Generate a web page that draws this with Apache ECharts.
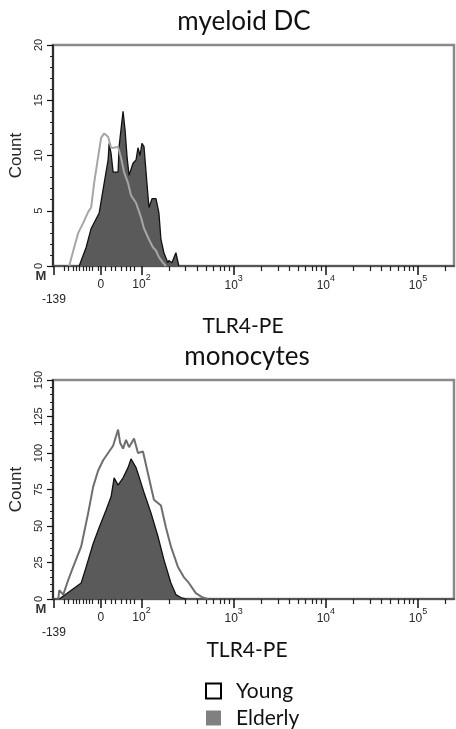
<!DOCTYPE html>
<html>
<head>
<meta charset="utf-8">
<script src="https://cdn.jsdelivr.net/npm/echarts@6/dist/echarts.min.js"></script>
<style>
html,body{margin:0;padding:0;background:#fff;}
#chart{width:456px;height:729px;}
</style>
</head>
<body>
<div id="chart"></div>
<script>
// ---- DATA (x in display units: decades on the biexponential axis, 10^k -> k) ----
const tickValues = [1.05, 1.56, 2, 3, 4, 5];
const tickLabels = ['-139', '0', '10^2', '10^3', '10^4', '10^5'];
const minorTickValues = [1.16, 1.21, 1.26, 1.29, 1.32, 1.37, 1.40, 1.43, 1.47, 1.53, 1.61, 1.67, 1.72, 1.78, 1.83, 1.88, 1.92,
  2.30, 2.48, 2.60, 2.70, 2.78, 2.85, 2.90, 2.95,
  3.30, 3.48, 3.60, 3.70, 3.78, 3.85, 3.90, 3.95,
  4.30, 4.48, 4.60, 4.70, 4.78, 4.85, 4.90, 4.95, 5.30];

// myeloid DC
const mdcElderlyX = [1.324, 1.400, 1.454, 1.541, 1.595, 1.638, 1.649, 1.670, 1.692, 1.746, 1.757, 1.789, 1.800, 1.822, 1.843, 1.865, 1.908, 1.941, 1.962, 1.984, 2.005, 2.027, 2.059, 2.081, 2.114, 2.157, 2.189, 2.211, 2.243, 2.286, 2.297, 2.330, 2.373, 2.405];
const mdcElderlyY = [0, 1.7, 3.4, 4.8, 7.5, 9.6, 11.1, 10.2, 8.5, 8.5, 10.8, 13.2, 14.0, 12.3, 9.9, 8.2, 9.3, 9.6, 10.7, 10.0, 11.1, 10.8, 7.5, 5.3, 6.1, 6.1, 4.8, 2.4, 1.2, 0.3, 0.5, 0.3, 1.2, 0];
const mdcYoungX = [1.216, 1.270, 1.314, 1.368, 1.422, 1.454, 1.486, 1.530, 1.562, 1.595, 1.638, 1.670, 1.703, 1.746, 1.778, 1.811, 1.854, 1.886, 1.941, 1.995, 2.027, 2.081, 2.124, 2.157, 2.189, 2.232, 2.265];
const mdcYoungY = [0, 1.7, 3.0, 3.9, 4.9, 5.3, 7.5, 9.9, 11.6, 12.0, 11.7, 10.7, 10.7, 10.8, 9.8, 8.5, 7.5, 6.4, 5.7, 4.4, 3.4, 2.4, 1.7, 1.4, 0.8, 0.3, 0];

// monocytes
const monoElderlyX = [1.108, 1.130, 1.238, 1.346, 1.400, 1.476, 1.541, 1.616, 1.670, 1.703, 1.746, 1.800, 1.854, 1.886, 1.941, 1.962, 2.027, 2.103, 2.178, 2.243, 2.319, 2.373, 2.427, 2.481];
const monoElderlyY = [0, 1, 6, 11, 22, 38, 49, 61, 70, 83, 78, 83, 90, 96, 90, 86, 73, 59, 43, 27, 11, 3, 1, 0];
const monoYoungX = [1.097, 1.108, 1.151, 1.205, 1.259, 1.346, 1.422, 1.476, 1.530, 1.584, 1.638, 1.692, 1.746, 1.768, 1.800, 1.832, 1.865, 1.919, 1.962, 2.016, 2.070, 2.135, 2.211, 2.265, 2.319, 2.395, 2.459, 2.514, 2.589, 2.665, 2.719];
const monoYoungY = [0, 6, 3, 13, 22, 36, 59, 77, 88, 95, 100, 105, 116, 107, 103, 109, 104, 110, 100, 101, 86, 68, 64, 49, 36, 22, 15, 11, 4, 1, 0];

const panels = [
  {title: 'myeloid DC', yMax: 20, yStep: 5, elderlyX: mdcElderlyX, elderlyY: mdcElderlyY, youngX: mdcYoungX, youngY: mdcYoungY},
  {title: 'monocytes', yMax: 150, yStep: 25, elderlyX: monoElderlyX, elderlyY: monoElderlyY, youngX: monoYoungX, youngY: monoYoungY}
];
const xTitle = 'TLR4-PE';
const yTitle = 'Count';
const seriesNames = ['Young', 'Elderly'];

// ---- CHART ----
const zip = (xs, ys) => xs.map((x, i) => [x, ys[i]]);
const labelFont = 'Liberation Sans, Arial, sans-serif';
const textFont = 'Lato, Open Sans, sans-serif';
const XMIN = 1.04, XMAX = 5.39;

function fmt(v) {
  const i = tickValues.findIndex(t => Math.abs(t - v) < 1e-6);
  if (i < 0) return '';
  const s = tickLabels[i];
  if (s.indexOf('^') >= 0) {
    const p = s.split('^');
    return '{b|' + p[0] + '}{s|' + p[1] + '}';
  }
  return '{b|' + s + '}';
}
const rich = {
  b: {fontSize: 12, fontFamily: labelFont, color: '#262626', lineHeight: 18, verticalAlign: 'bottom'},
  s: {fontSize: 9, fontFamily: labelFont, color: '#262626', lineHeight: 9, verticalAlign: 'top'}
};

const grids = [
  {left: 52, top: 45, width: 402, height: 221},
  {left: 52, top: 380, width: 402, height: 219}
];

const xAxes = [], yAxes = [], series = [];
grids.forEach((g, gi) => {
  g.show = true; g.borderColor = '#8a8a8a'; g.borderWidth = 2.5; g.backgroundColor = '#fff';
  const base = {gridIndex: gi, type: 'value', min: XMIN, max: XMAX, position: 'bottom', splitLine: {show: false}};
  xAxes.push(Object.assign({}, base, {
    axisLine: {show: true, onZero: false, lineStyle: {color: '#555', width: 2}},
    axisTick: {show: true, customValues: tickValues, length: 9, lineStyle: {color: '#111', width: 1.5}},
    axisLabel: {show: true, customValues: [1.56, 2], formatter: fmt, rich: rich, margin: 7}
  }));
  xAxes.push(Object.assign({}, base, {
    axisLine: {show: false},
    axisTick: {show: true, customValues: minorTickValues, length: 5, lineStyle: {color: '#222', width: 1.2}},
    axisLabel: {show: false}
  }));
  xAxes.push(Object.assign({}, base, {
    axisLine: {show: false}, axisTick: {show: false},
    axisLabel: {show: true, customValues: [3, 4, 5], formatter: fmt, rich: rich, margin: 8}
  }));
  xAxes.push(Object.assign({}, base, {
    axisLine: {show: false}, axisTick: {show: false},
    axisLabel: {show: true, customValues: [1.05], formatter: fmt, rich: rich, margin: 22}
  }));
  const p = panels[gi];
  yAxes.push({
    gridIndex: gi, type: 'value', min: 0, max: p.yMax, interval: p.yStep,
    axisLine: {show: true, lineStyle: {color: '#111', width: 1.5}},
    axisTick: {show: true, length: 6, lineStyle: {color: '#111', width: 1.2}},
    minorTick: {show: true, splitNumber: 5, length: 3, lineStyle: {color: '#222'}},
    axisLabel: {rotate: 90, fontSize: 11, fontFamily: labelFont, color: '#262626', margin: 9},
    splitLine: {show: false},
    name: yTitle, nameLocation: 'middle', nameGap: 28, nameRotate: 90,
    nameTextStyle: {fontSize: 17, fontFamily: labelFont, color: '#262626'}
  });
  series.push({
    name: seriesNames[1], type: 'line', xAxisIndex: gi * 4, yAxisIndex: gi,
    data: zip(p.elderlyX, p.elderlyY), showSymbol: false, z: 2,
    color: '#808080',
    lineStyle: {color: '#111', width: 1.3},
    areaStyle: {color: '#5a5a5a', opacity: 1}
  });
  series.push({
    name: seriesNames[0], type: 'line', xAxisIndex: gi * 4, yAxisIndex: gi,
    data: zip(p.youngX, p.youngY), showSymbol: false, z: 3,
    color: '#ffffff',
    lineStyle: {color: gi === 0 ? '#a6a6a6' : '#6e6e6e', width: 2}
  });
});

const chart = echarts.init(document.getElementById('chart'), null, {renderer: 'canvas'});
chart.setOption({
  animation: false,
  backgroundColor: '#fff',
  grid: grids,
  xAxis: xAxes,
  yAxis: yAxes,
  series: series,
  legend: {
    orient: 'vertical', left: 205, top: 680, height: 80, itemWidth: 15, itemHeight: 15, itemGap: 5, padding: 0,
    textStyle: {fontSize: 21, lineHeight: 22, fontFamily: textFont, color: '#111', padding: [0, 0, 0, 10]},
    data: [
      {name: seriesNames[0], icon: 'rect', itemStyle: {color: '#fff', borderColor: '#000', borderWidth: 2}},
      {name: seriesNames[1], icon: 'rect', itemStyle: {color: '#808080', borderWidth: 0}}
    ]
  },
  graphic: [
    {type: 'text', x: 244, y: 22, style: {text: panels[0].title, font: '26px ' + textFont, fill: '#111', textAlign: 'center', textVerticalAlign: 'middle'}},
    {type: 'text', x: 243, y: 326, style: {text: xTitle, font: '21px ' + textFont, fill: '#111', textAlign: 'center', textVerticalAlign: 'middle'}},
    {type: 'text', x: 247, y: 357, style: {text: panels[1].title, font: '26px ' + textFont, fill: '#111', textAlign: 'center', textVerticalAlign: 'middle'}},
    {type: 'text', x: 247, y: 650, style: {text: xTitle, font: '21px ' + textFont, fill: '#111', textAlign: 'center', textVerticalAlign: 'middle'}},
    {type: 'text', x: 41, y: 276, style: {text: 'M', font: 'bold 13px ' + labelFont, fill: '#333', textAlign: 'center', textVerticalAlign: 'middle'}},
    {type: 'text', x: 41, y: 609, style: {text: 'M', font: 'bold 13px ' + labelFont, fill: '#333', textAlign: 'center', textVerticalAlign: 'middle'}}
  ]
});
</script>
</body>
</html>
